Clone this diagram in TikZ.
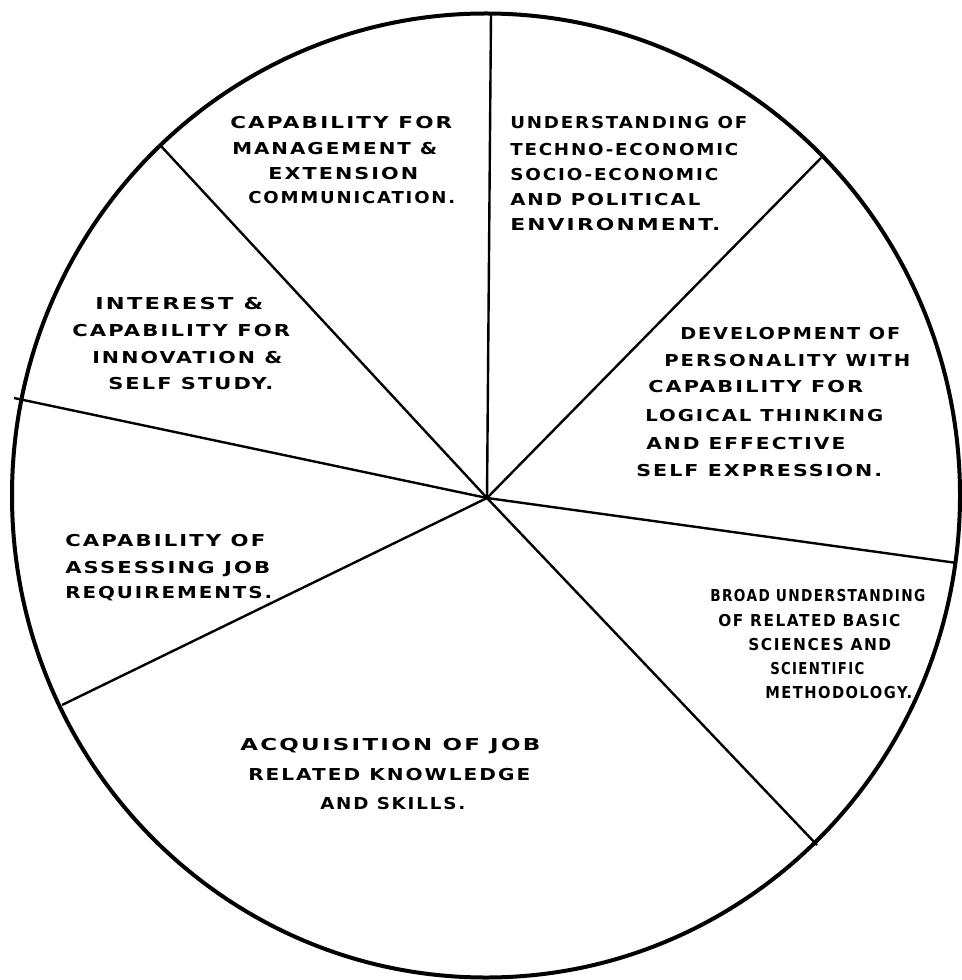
\documentclass[tikz,border=0pt]{standalone}
\usepackage{fontspec}
\usepackage{graphicx}
\newfontfamily\lett[LetterSpace=10]{DejaVu Sans}
\newcommand\W[2]{\resizebox{\dimexpr#1pt*3/4\relax}{\height}{#2}}
\begin{document}
\begin{tikzpicture}[x=0.75pt,y=-0.75pt,
  rim/.style={line width=3pt},
  spoke/.style={line width=1.8pt},
  lbl/.style={anchor=base west, inner sep=0pt, yshift=-4.5pt,
    font=\lett\bfseries\fontsize{12.3pt}{14pt}\selectfont},
]
\useasboundingbox (0,0) rectangle (962,980);
\fill[white] (0,0) rectangle (962,980);

% rim
\draw[rim] (486,495.5) ellipse [x radius=474, y radius=482];

% hub and spoke ends
\coordinate (hub) at (487,498);
\coordinate (eT)  at (491,13);
\coordinate (eUR) at (821,158);
\coordinate (eR)  at (957,563);
\coordinate (eDR) at (817,845);
\coordinate (eDL) at (62,705);
\coordinate (eL)  at (14,398);
\coordinate (eUL) at (160,145);

\foreach \e in {eT,eUR,eR,eDR,eDL,eL,eUL}
  \draw[spoke] (hub) -- (\e);

% sector 1: top-left
\node[lbl] (a1) at (230,123) {\W{222}{CAPABILITY FOR}};
\node[lbl] (a2) at (232,149) {\W{205}{MANAGEMENT \&}};
\node[lbl] (a3) at (268,174) {\W{150}{EXTENSION}};
\node[lbl] (a4) at (248,198) {\W{207}{COMMUNICATION.}};

% sector 2: top-right
\node[lbl] (b1) at (510,123) {\W{237}{UNDERSTANDING OF}};
\node[lbl] (b2) at (510,150) {\W{228}{TECHNO-ECONOMIC}};
\node[lbl] (b3) at (510,175) {\W{208}{SOCIO-ECONOMIC}};
\node[lbl] (b4) at (510,200) {\W{190}{AND POLITICAL}};
\node[lbl] (b5) at (510,225) {\W{210}{ENVIRONMENT.}};

% sector 3: left-top
\node[lbl] (c1) at (95,303) {\W{168}{INTEREST \&}};
\node[lbl] (c2) at (72,330) {\W{218}{CAPABILITY FOR}};
\node[lbl] (c3) at (92,357) {\W{190}{INNOVATION \&}};
\node[lbl] (c4) at (108,383) {\W{165}{SELF STUDY.}};

% sector 4: right
\node[lbl] (d1) at (680,333) {\W{220}{DEVELOPMENT OF}};
\node[lbl] (d2) at (664,360) {\W{246}{PERSONALITY WITH}};
\node[lbl] (d3) at (648,386) {\W{215}{CAPABILITY FOR}};
\node[lbl] (d4) at (645,415) {\W{238}{LOGICAL THINKING}};
\node[lbl] (d5) at (646,443) {\W{199}{AND EFFECTIVE}};
\node[lbl] (d6) at (636,470) {\W{246}{SELF EXPRESSION.}};

% sector 5: left-lower
\node[lbl] (e1) at (65,540) {\W{200}{CAPABILITY OF}};
\node[lbl] (e2) at (65,567) {\W{205}{ASSESSING JOB}};
\node[lbl] (e3) at (65,592) {\W{207}{REQUIREMENTS.}};

% sector 6: right-lower
\node[lbl] (f1) at (710,595) {\W{215}{BROAD UNDERSTANDING}};
\node[lbl] (f2) at (718,620) {\W{182}{OF RELATED BASIC}};
\node[lbl] (f3) at (748,644) {\W{143}{SCIENCES AND}};
\node[lbl] (f4) at (770,668) {\W{94}{SCIENTIFIC}};
\node[lbl] (f5) at (765,692) {\W{147}{METHODOLOGY.}};

% sector 7: bottom
\node[lbl] (g1) at (240,744) {\W{300}{ACQUISITION OF JOB}};
\node[lbl] (g2) at (248,774) {\W{282}{RELATED KNOWLEDGE}};
\node[lbl] (g3) at (320,803) {\W{145}{AND SKILLS.}};
\end{tikzpicture}
\end{document}
